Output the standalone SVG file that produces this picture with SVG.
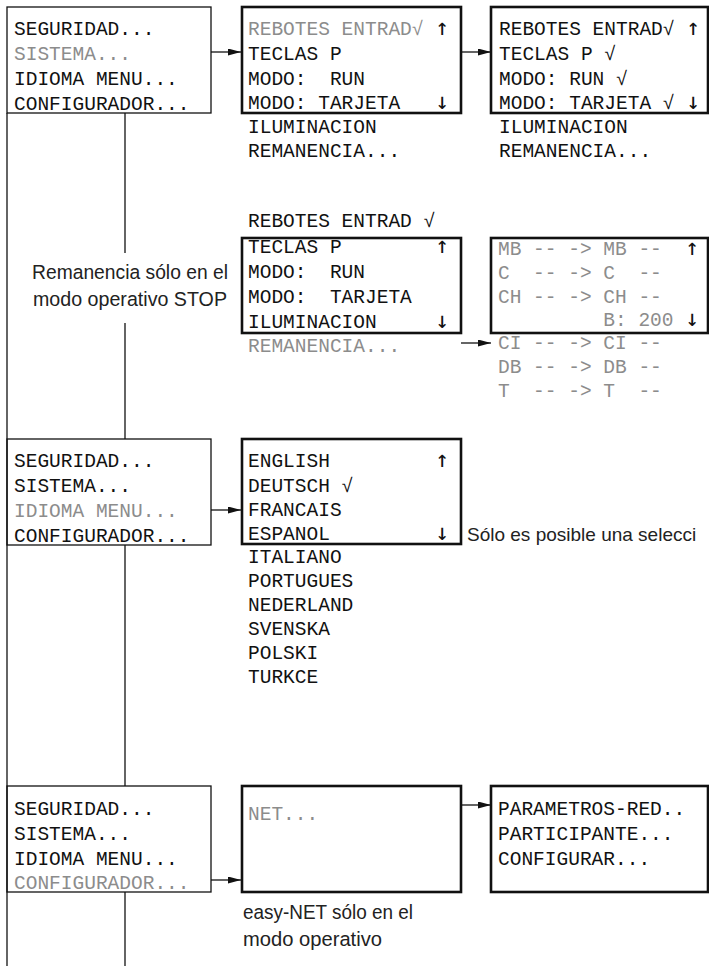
<svg xmlns="http://www.w3.org/2000/svg" width="709" height="966" viewBox="0 0 709 966">
<style>
.lcd{font-family:"Liberation Mono","DejaVu Sans Mono",monospace;font-size:19.5px;fill:#111;white-space:pre}
.g{fill:#8c8c8c}
.ar{font-family:"DejaVu Sans Mono","DejaVu Sans",monospace;font-size:23px;fill:#111}
.note{font-family:"Liberation Sans",Arial,sans-serif;font-size:20.5px;fill:#222}
.sm{font-size:19px}
.thin{fill:none;stroke:#111;stroke-width:1.3}
.thick{fill:none;stroke:#111;stroke-width:2.6}
.line{fill:none;stroke:#111;stroke-width:1.3}
</style>
<defs>
<marker id="ah" markerUnits="userSpaceOnUse" markerWidth="14" markerHeight="8" refX="13" refY="3.5" orient="auto">
<path d="M0,0 L13,3.5 L0,7 z" fill="#111"/>
</marker>
</defs>
<rect width="709" height="966" fill="#fff"/>

<g id="connectors">
<line class="line" x1="7" y1="113" x2="7" y2="966"/>
<line class="line" x1="125" y1="113" x2="125" y2="253"/>
<line class="line" x1="125" y1="323" x2="125" y2="439"/>
<line class="line" x1="125" y1="545" x2="125" y2="786"/>
<line class="line" x1="125" y1="892" x2="125" y2="966"/>
<line class="line" x1="211" y1="52" x2="241" y2="52" marker-end="url(#ah)"/>
<line class="line" x1="461" y1="52" x2="491" y2="52" marker-end="url(#ah)"/>
<line class="line" x1="461" y1="343" x2="491" y2="343" marker-end="url(#ah)"/>
<line class="line" x1="211" y1="510" x2="241" y2="510" marker-end="url(#ah)"/>
<line class="line" x1="211" y1="880" x2="241" y2="880" marker-end="url(#ah)"/>
<line class="line" x1="461" y1="805" x2="491" y2="805" marker-end="url(#ah)"/>
</g>

<g id="menu1">
<rect class="thin" x="7" y="7" width="204" height="106"/>
<text class="lcd" x="14" y="35">SEGURIDAD...</text>
<text class="lcd g" x="14" y="60">SISTEMA...</text>
<text class="lcd" x="14" y="85">IDIOMA MENU...</text>
<text class="lcd" x="14" y="110">CONFIGURADOR...</text>
</g>

<g id="sistema1">
<rect class="thick" x="242" y="7" width="219" height="106"/>
<text class="lcd" x="248" y="35"><tspan class="g">REBOTES ENTRAD√</tspan> <tspan class="ar">↑</tspan></text>
<text class="lcd" x="248" y="60">TECLAS P</text>
<text class="lcd" x="248" y="85">MODO:  RUN</text>
<text class="lcd" x="248" y="109">MODO: TARJETA   <tspan class="ar">↓</tspan></text>
<text class="lcd" x="248" y="133">ILUMINACION</text>
<text class="lcd" x="248" y="157">REMANENCIA...</text>
</g>

<g id="sistema2">
<rect class="thick" x="491" y="7" width="217" height="106"/>
<text class="lcd" x="499" y="35">REBOTES ENTRAD√ <tspan class="ar">↑</tspan></text>
<text class="lcd" x="499" y="60">TECLAS P √</text>
<text class="lcd" x="499" y="85">MODO: RUN √</text>
<text class="lcd" x="499" y="109">MODO: TARJETA √ <tspan class="ar">↓</tspan></text>
<text class="lcd" x="499" y="133">ILUMINACION</text>
<text class="lcd" x="499" y="157">REMANENCIA...</text>
</g>

<g id="note-remanencia">
<text class="note" x="32" y="279" textLength="196" lengthAdjust="spacingAndGlyphs">Remanencia sólo en el</text>
<text class="note" x="33" y="306" textLength="194" lengthAdjust="spacingAndGlyphs">modo operativo STOP</text>
</g>

<g id="sistema3">
<text class="lcd" x="248" y="227">REBOTES ENTRAD √</text>
<rect class="thick" x="242" y="238" width="219" height="95"/>
<text class="lcd" x="248" y="253">TECLAS P        <tspan class="ar">↑</tspan></text>
<text class="lcd" x="248" y="278">MODO:  RUN</text>
<text class="lcd" x="248" y="303">MODO:  TARJETA</text>
<text class="lcd" x="248" y="328">ILUMINACION     <tspan class="ar">↓</tspan></text>
<text class="lcd g" x="248" y="352">REMANENCIA...</text>
</g>

<g id="remanencia">
<rect class="thick" x="491" y="238" width="217" height="95"/>
<text class="lcd" x="498" y="255"><tspan class="g">MB -- -&gt; MB --</tspan>  <tspan class="ar">↑</tspan></text>
<text class="lcd g" x="498" y="279">C  -- -&gt; C  --</text>
<text class="lcd g" x="498" y="303">CH -- -&gt; CH --</text>
<text class="lcd" x="498" y="326"><tspan class="g">         B: 200</tspan> <tspan class="ar">↓</tspan></text>
<text class="lcd g" x="498" y="349">CI -- -&gt; CI --</text>
<text class="lcd g" x="498" y="373">DB -- -&gt; DB --</text>
<text class="lcd g" x="498" y="397">T  -- -&gt; T  --</text>
</g>

<g id="menu2">
<rect class="thin" x="7" y="439" width="204" height="106"/>
<text class="lcd" x="14" y="467">SEGURIDAD...</text>
<text class="lcd" x="14" y="492">SISTEMA...</text>
<text class="lcd g" x="14" y="517">IDIOMA MENU...</text>
<text class="lcd" x="14" y="542">CONFIGURADOR...</text>
</g>

<g id="idioma">
<rect class="thick" x="242" y="439" width="219" height="105"/>
<text class="lcd" x="248" y="467">ENGLISH         <tspan class="ar">↑</tspan></text>
<text class="lcd" x="248" y="492">DEUTSCH √</text>
<text class="lcd" x="248" y="516">FRANCAIS</text>
<text class="lcd" x="248" y="540">ESPANOL         <tspan class="ar">↓</tspan></text>
<text class="lcd" x="248" y="563">ITALIANO</text>
<text class="lcd" x="248" y="587">PORTUGUES</text>
<text class="lcd" x="248" y="611">NEDERLAND</text>
<text class="lcd" x="248" y="635">SVENSKA</text>
<text class="lcd" x="248" y="659">POLSKI</text>
<text class="lcd" x="248" y="683">TURKCE</text>
</g>

<g id="note-seleccion">
<text class="note sm" x="467" y="541">Sólo es posible una selecci</text>
</g>

<g id="menu3">
<rect class="thin" x="7" y="786" width="204" height="106"/>
<text class="lcd" x="14" y="815">SEGURIDAD...</text>
<text class="lcd" x="14" y="840">SISTEMA...</text>
<text class="lcd" x="14" y="865">IDIOMA MENU...</text>
<text class="lcd g" x="14" y="889">CONFIGURADOR...</text>
</g>

<g id="net">
<rect class="thick" x="242" y="786" width="219" height="106"/>
<text class="lcd g" x="248" y="820">NET...</text>
</g>

<g id="note-net">
<text class="note" x="243" y="919" textLength="170" lengthAdjust="spacingAndGlyphs">easy-NET sólo en el</text>
<text class="note" x="243" y="946" textLength="139" lengthAdjust="spacingAndGlyphs">modo operativo</text>
</g>

<g id="net-menu">
<rect class="thick" x="491" y="786" width="217" height="106"/>
<text class="lcd" x="498" y="815">PARAMETROS-RED..</text>
<text class="lcd" x="498" y="840">PARTICIPANTE...</text>
<text class="lcd" x="498" y="865">CONFIGURAR...</text>
</g>
</svg>
